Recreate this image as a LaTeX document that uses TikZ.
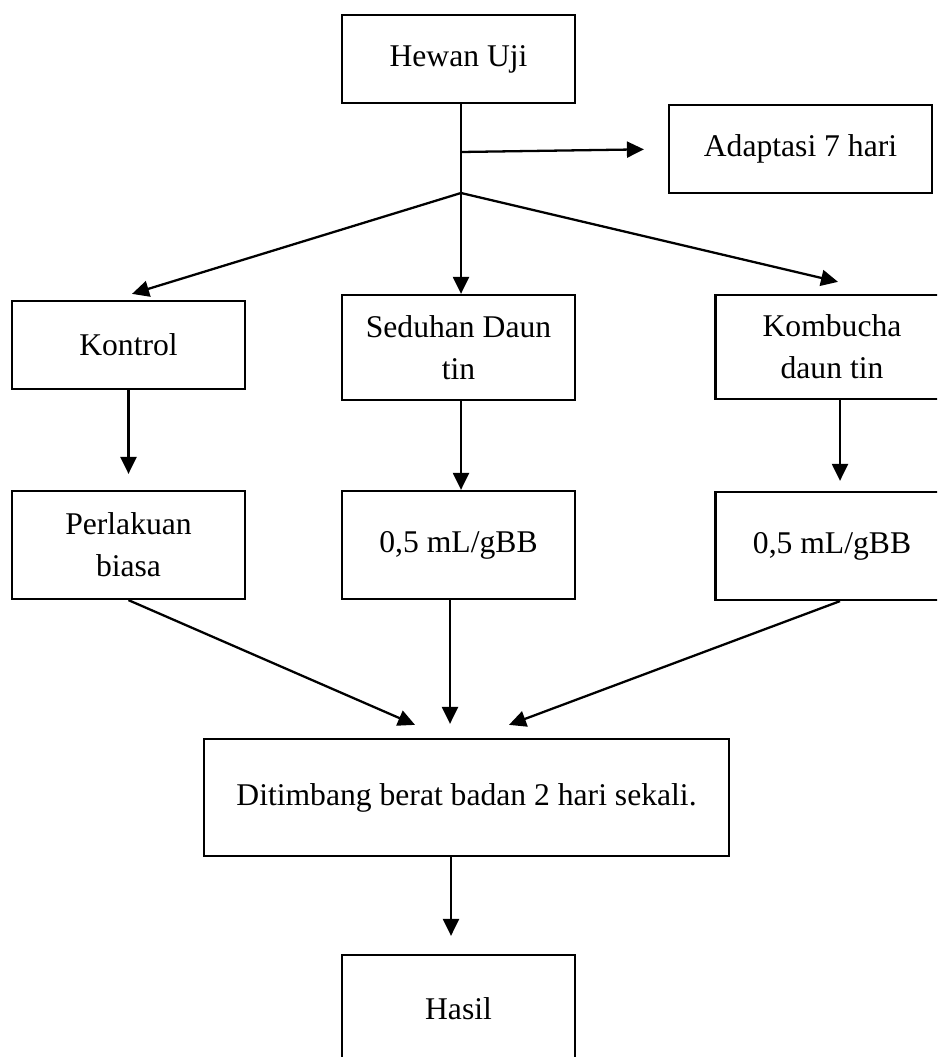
\documentclass[tikz,border=0pt]{standalone}
\usepackage{fontspec}
\setmainfont{Liberation Serif}
\usetikzlibrary{arrows.meta}

\begin{document}
\begin{tikzpicture}[x=0.02cm, y=-0.02cm,
                    box/.style = {draw, line width=1.3pt, inner sep=0pt, align=center,
                                  minimum width=4.66cm, minimum height=1.76cm,
                                  font=\fontsize{18}{24}\selectfont},
                    arr/.style = {-{Triangle[length=0.34cm, width=0.32cm]}, line width=1.3pt}]
        \useasboundingbox (0,0) rectangle (937,1057);
        \clip (0,0) rectangle (937,1057);
        \node[box] (hewan) at (458.5,59) {Hewan Uji};
        \node[box, minimum width=5.26cm] (adapt) at (800.5,149) {Adaptasi 7 hari};
        \node[box] (kontrol) at (128.5,345) {Kontrol};
        \node[box, minimum height=2.1cm] (seduhan) at (458.5,347.5) {Seduhan Daun\\tin};
        \node[box, minimum height=2.08cm] (kombucha) at (832,347) {Kombucha\\daun tin};
        \node[box, minimum height=2.16cm] (perlakuan) at (128.5,545) {Perlakuan\\biasa};
        \node[box, minimum height=2.16cm] (dosis1) at (458.5,545) {0,5 mL/gBB};
        \node[box, minimum height=2.16cm] (dosis2) at (832,546) {0,5 mL/gBB};
        \node[box, minimum width=10.5cm, minimum height=2.34cm] (timbang) at (466.5,797.5) {Ditimbang berat badan 2 hari sekali.};
        \node[box, minimum height=2.16cm] (hasil) at (458.5,1009) {Hasil};
        \coordinate (split) at (461,193);
        \coordinate (side) at (461,152);
        \draw[line width=0.6pt] (hewan.south -| split) -- (split);
        \draw[arr, shorten >=0.48cm] (side) -- (adapt.west);
        \draw[arr] (split) -- ([xshift=0.07cm, yshift=0.12cm]kontrol.north);
        \draw[arr] (split) -- (split |- seduhan.north);
        \draw[arr] (split) -- ([xshift=0.12cm, yshift=0.24cm]kombucha.north);
        \draw[arr, shorten >=0.32cm] (kontrol.south) -- (perlakuan.north);
        \draw[arr] (split |- seduhan.south) -- (split |- dosis1.north);
        \draw[arr, shorten >=0.2cm] ([xshift=0.16cm]kombucha.south) -- ([xshift=0.16cm]dosis2.north);
        \draw[arr] (perlakuan.south) -- ([xshift=-1.03cm, yshift=0.26cm]timbang.north);
        \draw[arr, shorten >=0.28cm] ([xshift=-0.17cm]dosis1.south) -- ([xshift=-0.17cm]dosis1.south |- timbang.north);
        \draw[arr] ([xshift=0.16cm]dosis2.south) -- ([xshift=0.85cm, yshift=0.26cm]timbang.north);
        \draw[arr, shorten >=0.36cm] ([xshift=-0.15cm]hasil.north |- timbang.south) -- ([xshift=-0.15cm]hasil.north);
    \end{tikzpicture}
\end{document}
